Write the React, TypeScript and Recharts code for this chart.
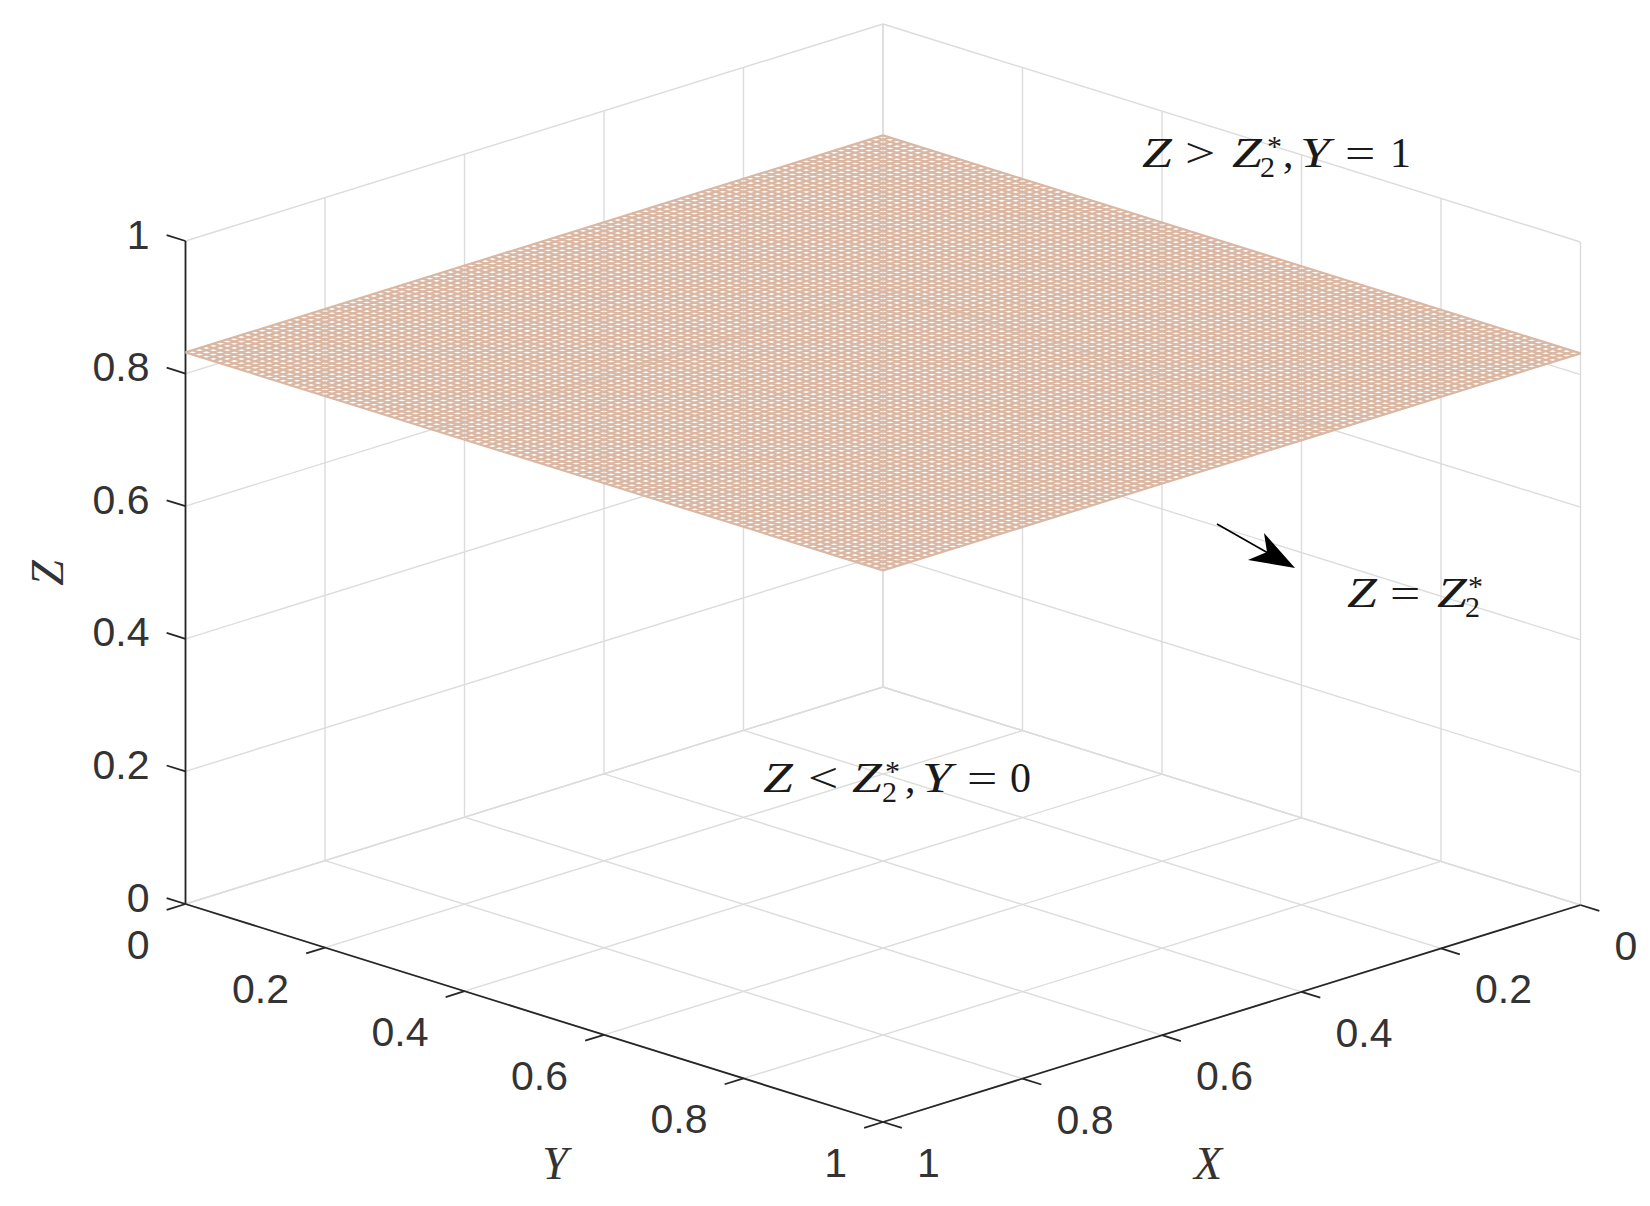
import React from "react";
import { ScatterChart, Scatter, XAxis, YAxis } from "recharts";

const WIDTH = 1650;
const HEIGHT = 1206;
const tickValues = [0, 0.2, 0.4, 0.6, 0.8, 1];
const tickLabels = ["0", "0.2", "0.4", "0.6", "0.8", "1"];
const surfaceZ = 0.832;
const meshCount = 100;
const meshValues = Array.from({ length: meshCount + 1 }, (_, i) => i / meshCount);

const GRID = "#dcdcdc";
const AXIS = "#262626";
const MESH = "#dab7a2";

const project = (X: number, Y: number, Z: number) => ({
  x: 883 + 697.5 * (Y - X),
  y: 687 + 217 * X + 218 * Y - 663 * Z,
});

type P3 = [number, number, number];
type Seg = { from: P3; to: P3 };

const gridSegs: Seg[] = [];
tickValues.forEach((t) => {
  gridSegs.push({ from: [t, 0, 0], to: [t, 1, 0] });
  gridSegs.push({ from: [0, t, 0], to: [1, t, 0] });
  gridSegs.push({ from: [t, 0, 0], to: [t, 0, 1] });
  gridSegs.push({ from: [0, t, 0], to: [0, t, 1] });
  gridSegs.push({ from: [0, 0, t], to: [1, 0, t] });
  gridSegs.push({ from: [0, 0, t], to: [0, 1, t] });
});

const meshSegs: Seg[] = [];
meshValues.forEach((t) => {
  meshSegs.push({ from: [t, 0, surfaceZ], to: [t, 1, surfaceZ] });
  meshSegs.push({ from: [0, t, surfaceZ], to: [1, t, surfaceZ] });
});

const axisSegs: Seg[] = [
  { from: [1, 0, 0], to: [1, 0, 1] },
  { from: [1, 0, 0], to: [1, 1, 0] },
  { from: [0, 1, 0], to: [1, 1, 0] },
];
const TICK = 0.027;
tickValues.forEach((t) => {
  axisSegs.push({ from: [1, 0, t], to: [1, -TICK, t] });
  axisSegs.push({ from: [1, t, 0], to: [1 + TICK, t, 0] });
  axisSegs.push({ from: [t, 1, 0], to: [t, 1 + TICK, 0] });
});

const segData = (s: Seg) => [project(...s.from), project(...s.to)];
const noDot = () => null;

type Label = { x: number; y: number; text: string; anchor?: string; size: number; italic?: boolean; serif?: boolean; rotate?: boolean };

const zLabels: Label[] = tickValues.map((t, i) => {
  const p = project(1, 0, t);
  return { x: p.x - 36, y: p.y - 6.5, text: tickLabels[i], anchor: "end", size: 41 };
});
const yLabels: Label[] = tickValues.map((t, i) => {
  const p = project(1, t, 0);
  return { x: p.x - 36, y: p.y + 41, text: tickLabels[i], anchor: "end", size: 41 };
});
const xLabels: Label[] = tickValues.map((t, i) => {
  const p = project(t, 1, 0);
  return { x: p.x + 34, y: p.y + 41, text: tickLabels[i], anchor: "start", size: 41 };
});
const axisTitles: Label[] = [
  { x: 47, y: 573, text: "Z", anchor: "middle", size: 46, italic: true, serif: true, rotate: true },
  { x: 555, y: 1163, text: "Y", anchor: "middle", size: 46, italic: true, serif: true },
  { x: 1208, y: 1163, text: "X", anchor: "middle", size: 46, italic: true, serif: true },
];

type Tok = [number, string, boolean?, number?];
const wideTokens = ["Z", "Y", "=", ">", "<"];
const annotate = (x0: number, base: number, toks: Tok[]) =>
  toks.map(([dx, text, italic, shift]) => ({
    x: x0 + dx,
    y: base + (shift || 0),
    text,
    italic: !!italic,
    small: shift !== undefined,
    wide: wideTokens.includes(text),
  }));

const annotationAbove = annotate(1142, 167, [
  [0, "Z", true], [43, ">"], [90, "Z", true], [125, "*", false, -11], [118, "2", false, 10],
  [141, ","], [158, "Y", true], [203, "="], [248, "1"],
]);
const annotationOn = annotate(1347, 607, [
  [0, "Z", true], [43, "="], [90, "Z", true], [121, "*", false, -11], [118, "2", false, 10],
]);
const annotationBelow = annotate(763, 792, [
  [0, "Z", true], [45, "<"], [89, "Z", true], [122, "*", false, -11], [119, "2", false, 10],
  [142, ","], [159, "Y", true], [204, "="], [247, "0"],
]);

const arrowShaft = [{ x: 1217, y: 524 }, { x: 1268, y: 553 }];
const arrowTip = [{ x: 1295, y: 568 }];

const TextMark = (props: any) => {
  const { cx, cy, payload } = props;
  const d: Label = payload;
  return (
    <text
      x={cx}
      y={cy}
      textAnchor={d.anchor || "start"}
      dominantBaseline="central"
      fontSize={d.size}
      fontStyle={d.italic ? "italic" : "normal"}
      fontFamily={d.serif ? "'Liberation Serif', serif" : "'Liberation Sans', Arial, sans-serif"}
      fill="#333333"
      transform={d.rotate ? `rotate(-90 ${cx} ${cy})` : undefined}
    >
      {d.text}
    </text>
  );
};

const MathMark = (props: any) => {
  const { cx, cy, payload } = props;
  const sx = payload.wide ? 1.28 : 1;
  return (
    <text
      transform={`translate(${cx} ${cy}) scale(${sx} 1)`}
      fontSize={payload.small ? 30 : 42}
      fontStyle={payload.italic ? "italic" : "normal"}
      fontFamily="'Liberation Serif', serif"
      fill="#1a1a1a"
    >
      {payload.text}
    </text>
  );
};

const ArrowHead = (props: any) => {
  const { cx, cy } = props;
  const pts = [[0, 0], [-31, -35], [-28, -16], [-47, -8]].map(([a, b]) => `${cx + a},${cy + b}`).join(" ");
  return <polygon points={pts} fill="#000000" />;
};

export default function App() {
  return (
    <div style={{ position: "absolute", left: 0, top: 0, width: WIDTH, height: HEIGHT, background: "#ffffff", overflow: "hidden" }}>
      <ScatterChart width={WIDTH} height={HEIGHT} margin={{ top: 0, right: 0, bottom: 0, left: 0 }}>
        <XAxis type="number" dataKey="x" domain={[0, WIDTH]} hide />
        <YAxis type="number" dataKey="y" domain={[0, HEIGHT]} reversed hide width={0} />
        {gridSegs.map((s, i) => (
          <Scatter key={`g${i}`} data={segData(s)} line={{ stroke: GRID, strokeWidth: 1.4 }} shape={noDot} isAnimationActive={false} />
        ))}
        {axisSegs.map((s, i) => (
          <Scatter key={`a${i}`} data={segData(s)} line={{ stroke: AXIS, strokeWidth: 1.8 }} shape={noDot} isAnimationActive={false} />
        ))}
        {meshSegs.map((s, i) => (
          <Scatter key={`m${i}`} data={segData(s)} line={{ stroke: MESH, strokeWidth: 2.2 }} shape={noDot} isAnimationActive={false} />
        ))}
        <Scatter data={arrowShaft} line={{ stroke: "#000000", strokeWidth: 1.6 }} shape={noDot} isAnimationActive={false} />
        <Scatter data={arrowTip} shape={ArrowHead} isAnimationActive={false} />
        <Scatter data={[...zLabels, ...yLabels, ...xLabels, ...axisTitles]} shape={TextMark} isAnimationActive={false} />
        <Scatter data={[...annotationAbove, ...annotationOn, ...annotationBelow]} shape={MathMark} isAnimationActive={false} />
      </ScatterChart>
    </div>
  );
}
